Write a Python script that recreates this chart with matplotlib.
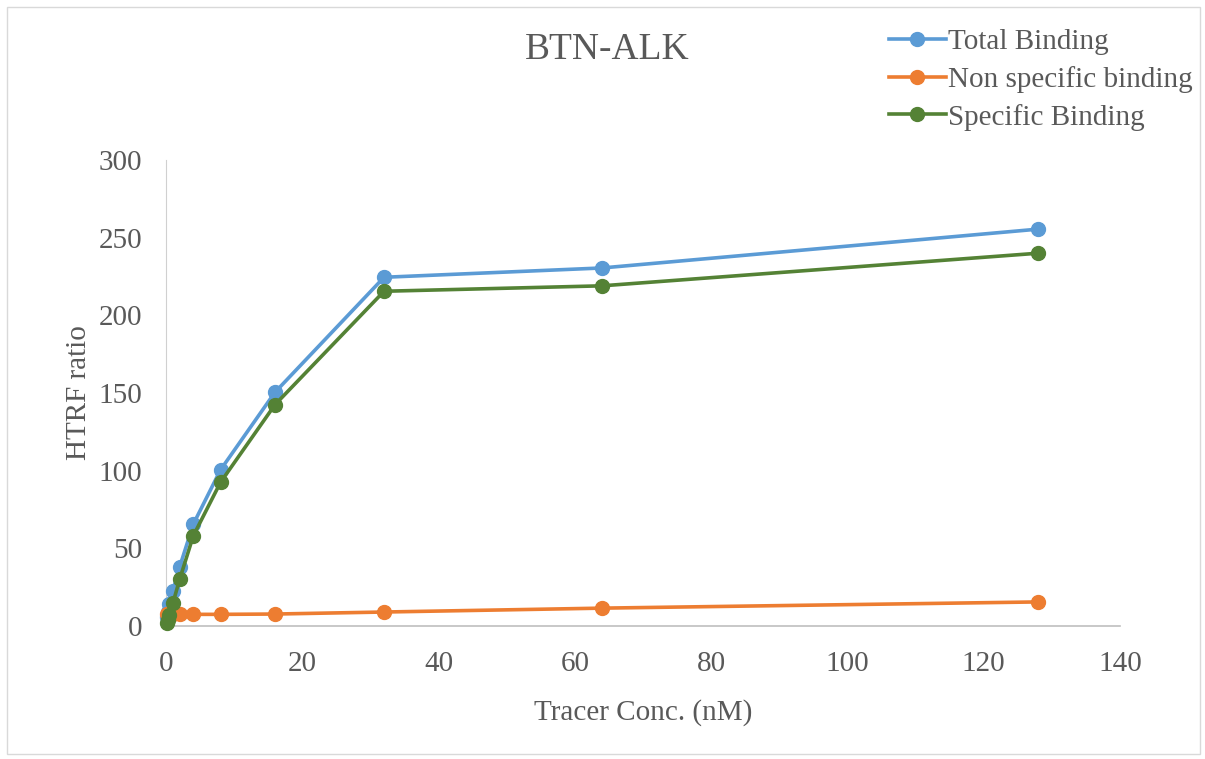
import matplotlib.pyplot as plt

# tracer concentrations (nM)
conc = [0.125, 0.25, 0.5, 1, 2, 4, 8, 16, 32, 64, 128]
total_binding = [6, 9, 14, 22.5, 38, 65.5, 100.5, 150.5, 224.5, 230.5, 255.5]
nonspecific = [8, 8, 8, 8, 8, 7.5, 7.5, 7.7, 9, 11.5, 15.5]
specific_binding = [2, 4, 7, 14.5, 30, 58, 92.5, 142.5, 215.5, 219, 240]

plt.rcParams['font.family'] = ['Liberation Serif', 'DejaVu Serif']

fig = plt.figure(figsize=(12.05, 7.59), dpi=100)
ax = fig.add_axes([166 / 1205, 1 - 626 / 759, (1120 - 166) / 1205, (626 - 160) / 759])

ax.plot(conc, total_binding, color='#5B9BD5', lw=2.6, marker='o', ms=10, label='Total Binding', zorder=3)
ax.plot(conc, nonspecific, color='#ED7D31', lw=2.6, marker='o', ms=10, label='Non specific binding', zorder=3)
ax.plot(conc, specific_binding, color='#548235', lw=2.6, marker='o', ms=10, label='Specific Binding', zorder=4)

ax.set_xlim(0, 140)
ax.set_ylim(0, 300)
ax.set_xticks(range(0, 141, 20))
ax.set_yticks(range(0, 301, 50))
ax.tick_params(length=0, labelsize=21, labelcolor='#595959')
ax.tick_params(axis='y', pad=17)
ax.tick_params(axis='x', pad=18)
for s in ['top', 'right']:
    ax.spines[s].set_visible(False)
ax.spines['left'].set_color('#D0D0D0')
ax.spines['bottom'].set_color('#BFBFBF')
ax.spines['bottom'].set_linewidth(1.2)
for ln in ax.lines:
    ln.set_clip_on(False)

ax.set_xlabel('Tracer Conc. (nM)', fontsize=21, color='#595959', labelpad=16)
ax.set_ylabel('HTRF ratio', fontsize=21, color='#595959', labelpad=5)

fig.text(607 / 1205, 1 - 50 / 759, 'BTN-ALK', fontsize=27, color='#595959', ha='center', va='center')

leg = fig.legend(loc='upper left', bbox_to_anchor=(877 / 1205, 1 - 17 / 759), frameon=False,
                 fontsize=21, handlelength=1.95, handletextpad=0.1, labelspacing=0.37, borderaxespad=0)
for t in leg.get_texts():
    t.set_color('#595959')

# light figure border
fig.patches.append(plt.Rectangle((0.006, 0.006), 0.99, 0.985, transform=fig.transFigure,
                                 fill=False, edgecolor='#D9D9D9', lw=1))

fig.savefig('out.png', dpi=100)
